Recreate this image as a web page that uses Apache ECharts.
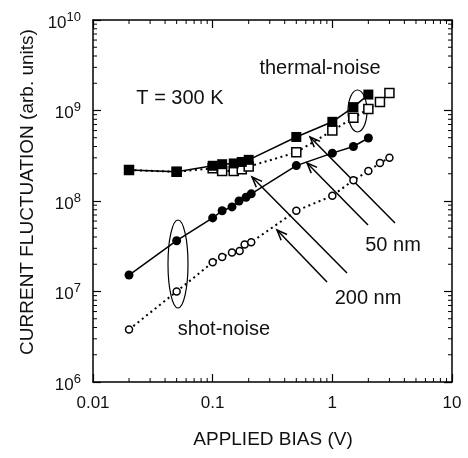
<!DOCTYPE html>
<html>
<head>
<meta charset="utf-8">
<script src="https://cdn.jsdelivr.net/npm/echarts@6/dist/echarts.min.js"></script>
<style>html,body{margin:0;padding:0;background:#fff}#c{width:468px;height:458px}</style>
</head>
<body>
<div id="c"></div>
<script>
// ---- data ----
const xTickLabels = ['0.01', '0.1', '1', '10'];
const yTickExponents = [6, 7, 8, 9, 10];

// thermal-noise, 50 nm (filled squares, solid line)
const xThermal50 = [0.02, 0.05, 0.1, 0.12, 0.15, 0.175, 0.2, 0.5, 1, 1.5, 2];
const yThermal50 = [2.2e8, 2.1e8, 2.45e8, 2.55e8, 2.6e8, 2.7e8, 2.85e8, 5.1e8, 7.5e8, 1.09e9, 1.5e9];

// thermal-noise, 200 nm (open squares, dotted line)
const xThermal200 = [0.02, 0.05, 0.1, 0.12, 0.15, 0.175, 0.2, 0.5, 1, 1.5, 2, 2.5, 3];
const yThermal200 = [2.2e8, 2.1e8, 2.3e8, 2.15e8, 2.15e8, 2.25e8, 2.4e8, 3.45e8, 6.0e8, 8.3e8, 1.04e9, 1.24e9, 1.56e9];

// shot-noise, 50 nm (filled circles, solid line)
const xShot50 = [0.02, 0.05, 0.1, 0.12, 0.145, 0.166, 0.19, 0.21, 0.5, 1, 1.5, 2];
const yShot50 = [1.52e7, 3.64e7, 6.5e7, 7.8e7, 8.6e7, 1.0e8, 1.1e8, 1.2e8, 2.46e8, 3.38e8, 4.0e8, 4.97e8];

// shot-noise, 200 nm (open circles, dotted line)
const xShot200 = [0.02, 0.05, 0.1, 0.12, 0.145, 0.168, 0.185, 0.21, 0.5, 1, 1.5, 2, 2.5, 3];
const yShot200 = [3.8e6, 1.0e7, 2.1e7, 2.4e7, 2.7e7, 2.8e7, 3.3e7, 3.5e7, 7.8e7, 1.14e8, 1.7e8, 2.14e8, 2.63e8, 3.0e8];

const FONT = '"Liberation Sans", Arial, Helvetica, sans-serif';
const zip = (xs, ys) => xs.map((x, i) => [x, ys[i]]);

// minor tick positions for log axes (axis decoration)
const tickData = [];
for (let k = -2; k < 1; k++) for (let m = 2; m <= 9; m++) tickData.push([m * Math.pow(10, k), 1e8, 0]);
for (let k = 6; k < 10; k++) for (let m = 2; m <= 9; m++) tickData.push([1, m * Math.pow(10, k), 1]);

const chart = echarts.init(document.getElementById('c'), null, {renderer: 'canvas'});

function axisCommon() {
  return {
    axisLine: {show: true, lineStyle: {color: '#000', width: 1.5}},
    axisTick: {show: true, inside: true, length: 8, lineStyle: {color: '#000', width: 1.2}},
    splitLine: {show: false},
    minorTick: {show: false}
  };
}

function arrowGraphic(x1, y1, x2, y2) {
  const a = Math.atan2(y2 - y1, x2 - x1);
  const L = 11, w = 0.38;
  const p1 = [x2 - L * Math.cos(a - w), y2 - L * Math.sin(a - w)];
  const p2 = [x2 - L * Math.cos(a + w), y2 - L * Math.sin(a + w)];
  return [
    {type: 'line', shape: {x1, y1, x2, y2}, style: {stroke: '#000', lineWidth: 1.5}},
    {type: 'polyline', shape: {points: [p1, [x2, y2], p2]}, style: {stroke: '#000', lineWidth: 1.5, fill: null}}
  ];
}

const txt = (text, x, y, size) => ({
  type: 'text', x, y,
  style: {text, fontFamily: FONT, fontSize: size, fill: '#111', textAlign: 'center', textVerticalAlign: 'middle'}
});

const option = {
  animation: false,
  backgroundColor: '#fff',
  grid: {left: 93, right: 16, top: 20, bottom: 76, containLabel: false},
  xAxis: [
    Object.assign(axisCommon(), {
      type: 'log', logBase: 10, min: 0.01, max: 10, position: 'bottom',
      axisLabel: {
        margin: 13, fontSize: 17, fontFamily: FONT, color: '#111',
        formatter: (v) => xTickLabels[Math.round(Math.log10(v)) + 2]
      }
    }),
    Object.assign(axisCommon(), {
      type: 'log', logBase: 10, min: 0.01, max: 10, position: 'top', axisLabel: {show: false}
    })
  ],
  yAxis: [
    Object.assign(axisCommon(), {
      type: 'log', logBase: 10, min: 1e6, max: 1e10, position: 'left',
      axisLabel: {
        margin: 12, fontFamily: FONT, color: '#111',
        formatter: (v) => {
          const e = Math.round(Math.log10(v));
          return yTickExponents.indexOf(e) >= 0 ? '{b|10}{s|' + e + '}' : '';
        },
        rich: {
          b: {fontSize: 17, fontFamily: FONT, color: '#111', padding: [6, 0, 0, 0]},
          s: {fontSize: 13, fontFamily: FONT, color: '#111', padding: [0, 0, 6, 0]}
        }
      }
    }),
    Object.assign(axisCommon(), {
      type: 'log', logBase: 10, min: 1e6, max: 1e10, position: 'right', axisLabel: {show: false}
    })
  ],
  series: [
    {
      name: 'thermal 200 nm', type: 'line', data: zip(xThermal200, yThermal200),
      symbol: 'rect', symbolSize: 9, showSymbol: true,
      itemStyle: {color: '#fff', borderColor: '#000', borderWidth: 1.5},
      lineStyle: {color: '#000', width: 2, type: [2, 3.5]}, z: 2
    },
    {
      name: 'shot 200 nm', type: 'line', data: zip(xShot200, yShot200),
      symbol: 'circle', symbolSize: 7,
      itemStyle: {color: '#fff', borderColor: '#000', borderWidth: 1.5},
      lineStyle: {color: '#000', width: 2, type: [2, 3.5]}, z: 2
    },
    {
      name: 'thermal 50 nm', type: 'line', data: zip(xThermal50, yThermal50),
      symbol: 'rect', symbolSize: 10,
      itemStyle: {color: '#000', borderColor: '#000', borderWidth: 0},
      lineStyle: {color: '#000', width: 1.5, type: 'solid'}, z: 3
    },
    {
      name: 'shot 50 nm', type: 'line', data: zip(xShot50, yShot50),
      symbol: 'circle', symbolSize: 9,
      itemStyle: {color: '#000', borderColor: '#000', borderWidth: 0},
      lineStyle: {color: '#000', width: 1.5, type: 'solid'}, z: 3
    },
    {
      name: 'minor ticks', type: 'custom', data: tickData, encode: {x: 0, y: 1}, silent: true, z: 1,
      renderItem: (params, api) => {
        const cs = params.coordSys;
        const kind = api.value(2);
        const p = api.coord([api.value(0), api.value(1)]);
        const st = {stroke: '#000', lineWidth: 1};
        const L = 4;
        if (kind === 0) {
          return {type: 'group', children: [
            {type: 'line', shape: {x1: p[0], y1: cs.y + cs.height, x2: p[0], y2: cs.y + cs.height - L}, style: st},
            {type: 'line', shape: {x1: p[0], y1: cs.y, x2: p[0], y2: cs.y + L}, style: st}
          ]};
        }
        return {type: 'group', children: [
          {type: 'line', shape: {x1: cs.x, y1: p[1], x2: cs.x + L, y2: p[1]}, style: st},
          {type: 'line', shape: {x1: cs.x + cs.width, y1: p[1], x2: cs.x + cs.width - L, y2: p[1]}, style: st}
        ]};
      }
    }
  ],
  graphic: [
    {
      type: 'text', x: 28, y: 192, rotation: Math.PI / 2,
      style: {text: 'CURRENT FLUCTUATION (arb. units)', fontFamily: FONT, fontSize: 19, fill: '#111',
        textAlign: 'center', textVerticalAlign: 'middle'}
    },
    txt('APPLIED BIAS (V)', 273, 440, 19),
    txt('thermal-noise', 320, 68, 20),
    txt('T = 300 K', 180, 98, 20),
    txt('50 nm', 393, 245, 20),
    txt('200 nm', 368, 298, 20),
    txt('shot-noise', 224, 329, 20),
    {type: 'ellipse', shape: {cx: 357.5, cy: 111, rx: 9.5, ry: 21}, style: {stroke: '#000', lineWidth: 1.2, fill: null}},
    {type: 'ellipse', shape: {cx: 178, cy: 264, rx: 10, ry: 44}, style: {stroke: '#000', lineWidth: 1.2, fill: null}}
  ]
    .concat(arrowGraphic(395, 223, 310, 137))
    .concat(arrowGraphic(368, 225, 307, 163))
    .concat(arrowGraphic(347, 273, 252, 177))
    .concat(arrowGraphic(327, 282, 277, 230))
};

chart.setOption(option);
</script>
</body>
</html>
